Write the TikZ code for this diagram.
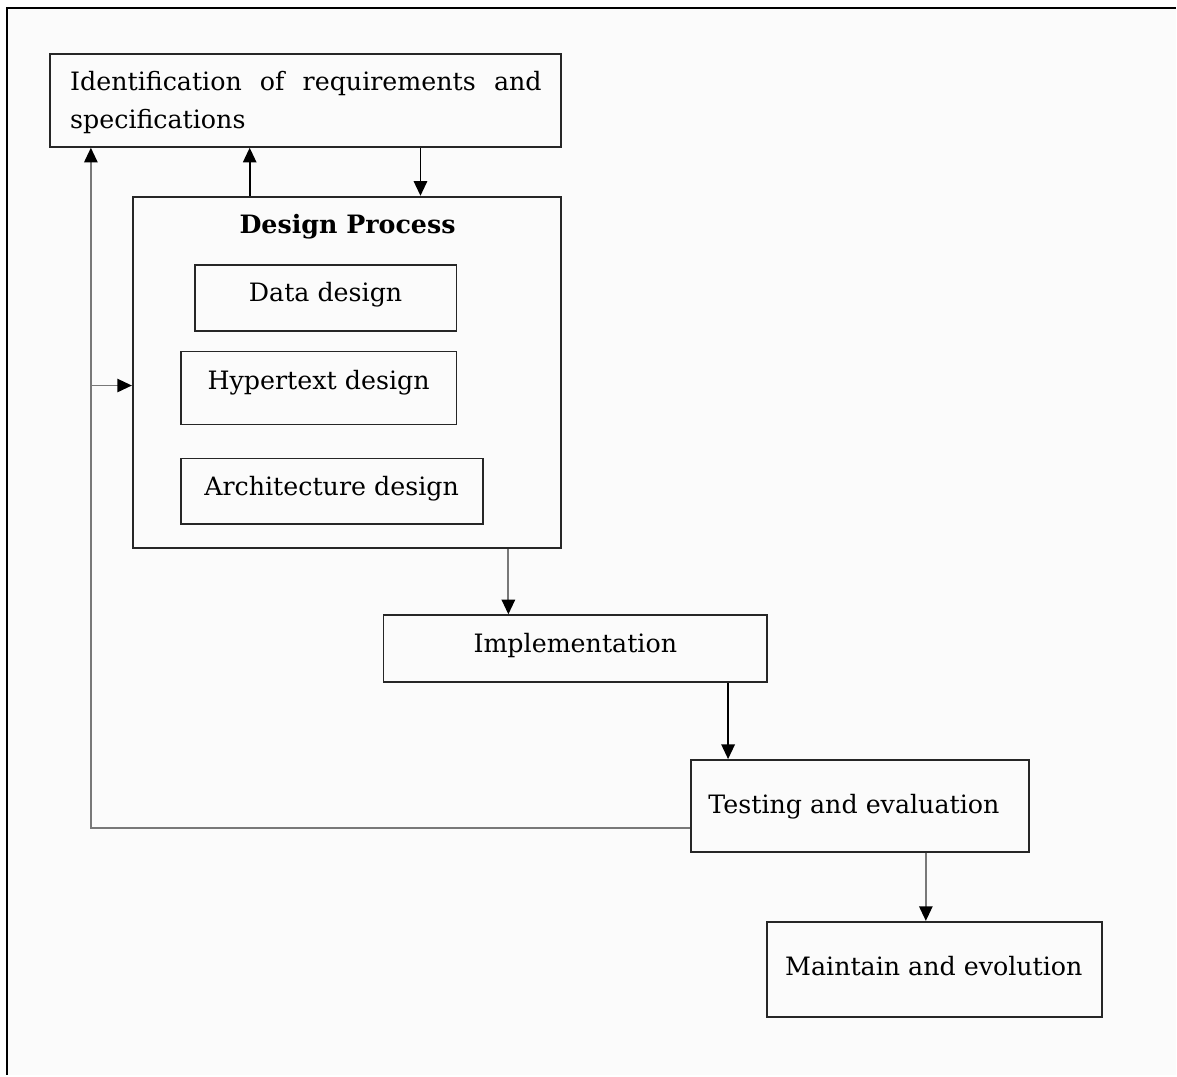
\documentclass[tikz,border=0pt]{standalone}
\usepackage{fontspec}
\setmainfont{DejaVu Serif}
\usetikzlibrary{arrows.meta}
\definecolor{pagebg}{RGB}{251,251,251}
\definecolor{linegray}{RGB}{120,120,120}
\tikzset{
  box/.style={draw=black!85, line width=1.4pt, inner sep=0pt},
  lbl/.style={anchor=base, inner sep=0pt, font=\fontsize{19}{28.5}\selectfont},
  arr/.style={line width=1.4pt, -{Triangle[length=11pt,width=10pt,color=black]}},
  fb/.style={arr, draw=linegray},
}
\begin{document}
\begin{tikzpicture}[x=0.75pt,y=-0.75pt]
	% page and frame
	\fill[white] (0,0) rectangle (1177,1076);
	\fill[pagebg] (7,8) rectangle (1177,1076);
	\draw[line width=2.2pt] (7,1076) -- (7,8) -- (1177,8);
	\useasboundingbox (0,0) rectangle (1177,1076);
	
	% boxes (sizes in px, 1px = 0.75pt)
	\node[box, minimum width=512*0.75pt, minimum height=93*0.75pt] (ident) at (306,100.5) {};
	\node[box, minimum width=429*0.75pt, minimum height=352*0.75pt] (design) at (347.5,373) {};
	\node[box, minimum width=262*0.75pt, minimum height=66*0.75pt] (data) at (326,298) {};
	\node[box, minimum width=276*0.75pt, minimum height=73*0.75pt] (hyper) at (319,388.5) {};
	\node[box, minimum width=303*0.75pt, minimum height=66*0.75pt] (arch) at (332.5,492) {};
	\node[box, minimum width=384*0.75pt, minimum height=67*0.75pt] (impl) at (576,649.5) {};
	\node[box, minimum width=338*0.75pt, minimum height=92*0.75pt] (test) at (861,807) {};
	\node[box, minimum width=335*0.75pt, minimum height=95*0.75pt] (maint) at (935.5,970.5) {};
	
	% texts
	\node[lbl, anchor=base west, text width=354pt, align=left] (identtxt) at (70,91)
		{Identification\hfill of\hfill requirements\hfill and\\specifications};
	\node[lbl, font=\fontsize{19}{28.5}\selectfont\bfseries] (designtxt) at (348,234) {Design Process};
	\node[lbl] (datatxt) at (326,302) {Data design};
	\node[lbl] (hypertxt) at (319,390) {Hypertext design};
	\node[lbl] (archtxt) at (332,496) {Architecture design};
	\node[lbl] (impltxt) at (576,653) {Implementation};
	\node[lbl] (testtxt) at (855,815) {Testing and evaluation};
	\node[lbl] (mainttxt) at (935,977) {Maintain and evolution};
	
	% connectors
	\coordinate (upx) at (250,0);
	\coordinate (downx) at (421,0);
	\coordinate (implx) at (509,0);
	\coordinate (testx) at (729,0);
	\coordinate (maintx) at (927,0);
	\coordinate (fbcorner) at (91,829);
	\coordinate (fbjoin) at (91,386);
	
	\draw[arr] (design.north -| upx) -- (ident.south -| upx);
	\draw[arr] (ident.south -| downx) -- (design.north -| downx);
	\draw[fb] (design.south -| implx) -- (impl.north -| implx);
	\draw[arr] (impl.south -| testx) -- (test.north -| testx);
	\draw[fb] (test.south -| maintx) -- (maint.north -| maintx);
	
	\draw[fb] (test.west |- fbcorner) -- (fbcorner) -- (ident.south -| fbcorner);
	\draw[fb] (fbjoin) -- (design.west |- fbjoin);
\end{tikzpicture}
\end{document}
